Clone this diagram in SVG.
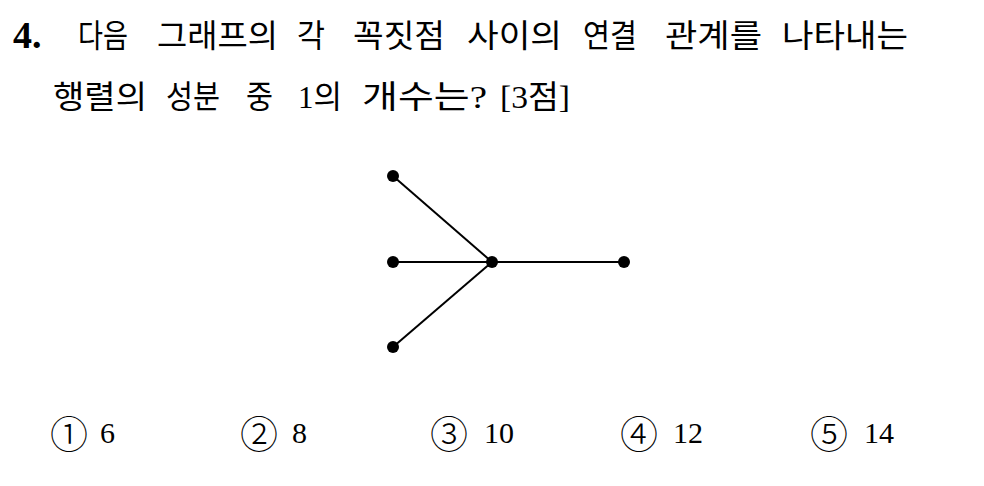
<svg xmlns="http://www.w3.org/2000/svg" width="984" height="486" viewBox="0 0 984 486">
<style>
.t{font-family:"Liberation Serif","Noto Sans CJK KR",serif;font-size:32px;fill:#000}
.n{font-family:"Liberation Serif",serif;font-size:30px;fill:#000}
.c{font-family:"Noto Sans CJK KR","DejaVu Sans",sans-serif;font-size:38px;font-weight:300;fill:#000}
.b{font-family:"Liberation Serif",serif;font-size:38px;font-weight:bold;fill:#000}
.e{stroke:#000;stroke-width:2;fill:none}
.v{fill:#000}
</style>
<rect width="984" height="486" fill="#fff"/>
<g id="question">
<text class="b" x="13" y="48">4.</text>
<text class="t" x="78" y="47" textLength="50" lengthAdjust="spacingAndGlyphs">다음</text>
<text class="t" x="157" y="47" textLength="121" lengthAdjust="spacingAndGlyphs">그래프의</text>
<text class="t" x="297" y="47" textLength="28" lengthAdjust="spacingAndGlyphs">각</text>
<text class="t" x="353" y="47" textLength="92" lengthAdjust="spacingAndGlyphs">꼭짓점</text>
<text class="t" x="467" y="47" textLength="95" lengthAdjust="spacingAndGlyphs">사이의</text>
<text class="t" x="583" y="47" textLength="54" lengthAdjust="spacingAndGlyphs">연결</text>
<text class="t" x="665" y="47" textLength="97" lengthAdjust="spacingAndGlyphs">관계를</text>
<text class="t" x="782" y="47" textLength="126" lengthAdjust="spacingAndGlyphs">나타내는</text>
<text class="t" x="53" y="108" textLength="94" lengthAdjust="spacingAndGlyphs">행렬의</text>
<text class="t" x="166" y="108" textLength="54" lengthAdjust="spacingAndGlyphs">성분</text>
<text class="t" x="246" y="108" textLength="27" lengthAdjust="spacingAndGlyphs">중</text>
<text class="t" x="298" y="108" textLength="44" lengthAdjust="spacingAndGlyphs">1의</text>
<text class="t" x="362" y="108" textLength="125" lengthAdjust="spacingAndGlyphs">개수는?</text>
<text class="t" x="500" y="108" textLength="70" lengthAdjust="spacingAndGlyphs">[3점]</text>
</g>
<g id="connectors">
<line class="e" x1="393" y1="176" x2="492" y2="262"/>
<line class="e" x1="393" y1="262" x2="492" y2="262"/>
<line class="e" x1="393" y1="347" x2="492" y2="262"/>
<line class="e" x1="492" y1="262" x2="624" y2="262"/>
</g>
<g id="v1"><circle class="v" cx="393" cy="176" r="6"/></g>
<g id="v2"><circle class="v" cx="393" cy="262" r="6"/></g>
<g id="v3"><circle class="v" cx="393" cy="347" r="6"/></g>
<g id="v4"><circle class="v" cx="492" cy="262" r="6"/></g>
<g id="v5"><circle class="v" cx="624" cy="262" r="6"/></g>
<g id="choices">
<text class="c" x="50" y="448">①</text>
<text class="n" x="100" y="443">6</text>
<text class="c" x="240" y="448">②</text>
<text class="n" x="292" y="443">8</text>
<text class="c" x="430" y="448">③</text>
<text class="n" x="484" y="443">10</text>
<text class="c" x="620" y="448">④</text>
<text class="n" x="673" y="443">12</text>
<text class="c" x="810" y="448">⑤</text>
<text class="n" x="864" y="443">14</text>
</g>
</svg>
